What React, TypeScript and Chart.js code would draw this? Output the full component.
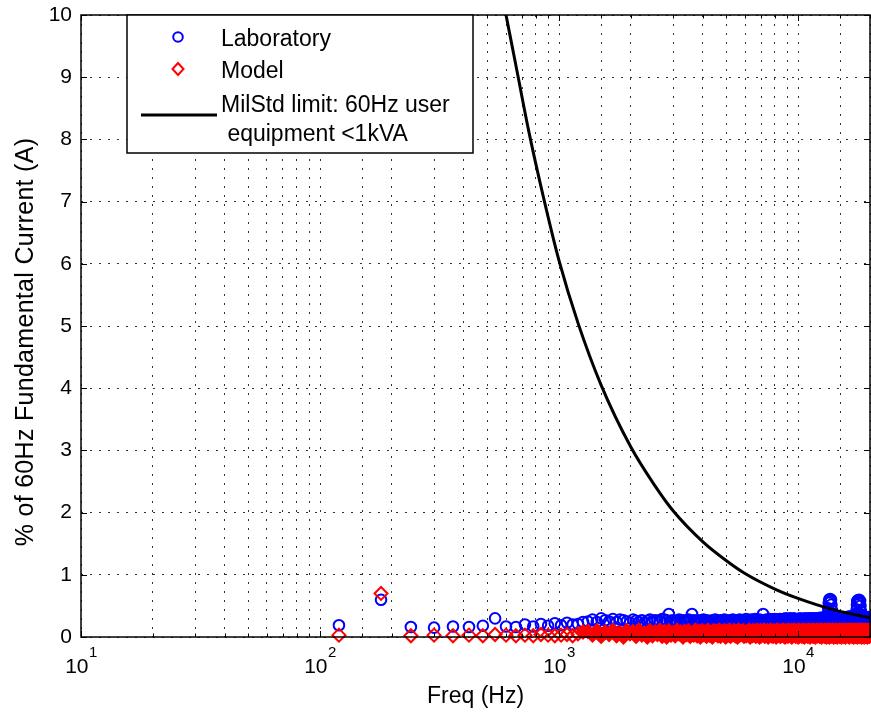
import React, { useEffect, useRef } from 'react';
import { Chart, registerables } from 'chart.js';

Chart.register(...registerables);

const FONT = '"Liberation Sans", Arial, Helvetica, sans-serif';

// Harmonics of the 60 Hz fundamental: orders 2..333
const FUNDAMENTAL_HZ = 60;
const FIRST_HARMONIC = 2;

// Laboratory measurement, % of fundamental, harmonic orders 2..333
const labValues = [
  0.19, 0.60, 0.16, 0.15, 0.17, 0.16, 0.18, 0.30, 0.17, 0.16, 0.20, 0.17, 0.21, 0.18, 0.22, 0.19, 0.23, 0.20, 0.21, 0.24,
  0.25, 0.28, 0.24, 0.30, 0.27, 0.25, 0.29, 0.24, 0.28, 0.27, 0.25, 0.23, 0.28, 0.26, 0.24, 0.27, 0.23, 0.26, 0.28, 0.25,
  0.27, 0.26, 0.25, 0.29, 0.28, 0.27, 0.37, 0.26, 0.27, 0.25, 0.26, 0.28, 0.24, 0.27, 0.26, 0.25, 0.28, 0.26, 0.37, 0.27,
  0.26, 0.25, 0.27, 0.24, 0.26, 0.28, 0.25, 0.27, 0.26, 0.24, 0.25, 0.27, 0.26, 0.28, 0.25, 0.24, 0.26, 0.27, 0.25, 0.26,
  0.28, 0.25, 0.26, 0.24, 0.27, 0.25, 0.26, 0.28, 0.24, 0.25, 0.27, 0.26, 0.25, 0.28, 0.26, 0.24, 0.27, 0.25, 0.26, 0.29,
  0.25, 0.27, 0.26, 0.24, 0.28, 0.26, 0.25, 0.27, 0.29, 0.26, 0.28, 0.27, 0.26, 0.28, 0.25, 0.27, 0.26, 0.37, 0.27, 0.26,
  0.26, 0.28, 0.25, 0.27, 0.26, 0.29, 0.27, 0.26, 0.28, 0.25, 0.27, 0.29, 0.26, 0.28, 0.27, 0.25, 0.28, 0.26, 0.29, 0.27,
  0.28, 0.26, 0.27, 0.29, 0.25, 0.28, 0.30, 0.27, 0.26, 0.28, 0.29, 0.27, 0.30, 0.28, 0.26, 0.29, 0.27, 0.28, 0.30, 0.26,
  0.27, 0.25, 0.28, 0.26, 0.29, 0.27, 0.25, 0.28, 0.30, 0.26, 0.28, 0.27, 0.25, 0.29, 0.26, 0.28, 0.30, 0.27, 0.26, 0.29,
  0.28, 0.26, 0.30, 0.27, 0.29, 0.28, 0.26, 0.30, 0.29, 0.28, 0.27, 0.30, 0.29, 0.27, 0.28, 0.29, 0.30, 0.28, 0.27, 0.29,
  0.30, 0.28, 0.27, 0.29, 0.31, 0.28, 0.27, 0.30, 0.31, 0.29, 0.30, 0.28, 0.31, 0.29, 0.32, 0.29, 0.33, 0.30, 0.32, 0.34,
  0.38, 0.46, 0.55, 0.60, 0.58, 0.61, 0.57, 0.60, 0.52, 0.43, 0.36, 0.32, 0.30, 0.33, 0.29, 0.31, 0.33, 0.28, 0.32, 0.30,
  0.28, 0.32, 0.30, 0.33, 0.29, 0.31, 0.28, 0.32, 0.30, 0.28, 0.31, 0.29, 0.27, 0.31, 0.28, 0.30, 0.28, 0.32, 0.29, 0.27,
  0.30, 0.28, 0.31, 0.28, 0.29, 0.32, 0.28, 0.30, 0.32, 0.29, 0.31, 0.33, 0.30, 0.32, 0.33, 0.31, 0.32, 0.30, 0.31, 0.33,
  0.30, 0.32, 0.30, 0.31, 0.33, 0.30, 0.32, 0.34, 0.31, 0.33, 0.37, 0.44, 0.52, 0.58, 0.56, 0.59, 0.55, 0.58, 0.60, 0.57,
  0.54, 0.58, 0.50, 0.42, 0.36, 0.33, 0.31, 0.34, 0.30, 0.32, 0.29, 0.33, 0.31, 0.28, 0.32, 0.30, 0.28, 0.31, 0.29, 0.27,
  0.30, 0.28, 0.31, 0.28, 0.29, 0.32, 0.28, 0.30, 0.28, 0.29, 0.31, 0.28,
];

// Model prediction, % of fundamental, harmonic orders 2..333
const modelValues = [
  0.03, 0.70, 0.02, 0.03, 0.02, 0.03, 0.02, 0.04, 0.03, 0.02, 0.03, 0.02, 0.04, 0.03, 0.02, 0.03, 0.04, 0.02, 0.05, 0.08,
  0.09, 0.03, 0.10, 0.01, 0.08, 0.04, 0.11, 0.02, 0.07, 0.00, 0.10, 0.05, 0.09, 0.01, 0.11, 0.03, 0.06, 0.00, 0.10, 0.02,
  0.08, 0.04, 0.11, 0.01, 0.09, 0.00, 0.10, 0.03, 0.07, 0.02, 0.11, 0.05, 0.08, 0.00, 0.09, 0.04, 0.10, 0.01, 0.06, 0.03,
  0.11, 0.02, 0.09, 0.00, 0.10, 0.04, 0.08, 0.01, 0.11, 0.03, 0.07, 0.00, 0.10, 0.05, 0.09, 0.02, 0.11, 0.01, 0.08, 0.04,
  0.10, 0.00, 0.09, 0.03, 0.11, 0.01, 0.07, 0.04, 0.10, 0.02, 0.08, 0.00, 0.11, 0.03, 0.09, 0.05, 0.10, 0.01, 0.07, 0.02,
  0.09, 0.04, 0.11, 0.00, 0.08, 0.02, 0.10, 0.03, 0.06, 0.01, 0.11, 0.04, 0.09, 0.00, 0.10, 0.02, 0.08, 0.05, 0.11, 0.01,
  0.07, 0.03, 0.10, 0.00, 0.09, 0.04, 0.11, 0.02, 0.08, 0.01, 0.10, 0.03, 0.07, 0.00, 0.11, 0.05, 0.09, 0.02, 0.10, 0.01,
  0.08, 0.04, 0.11, 0.02, 0.09, 0.00, 0.10, 0.03, 0.07, 0.01, 0.11, 0.04, 0.08, 0.02, 0.10, 0.00, 0.09, 0.05, 0.11, 0.03,
  0.06, 0.01, 0.10, 0.04, 0.09, 0.00, 0.11, 0.02, 0.08, 0.03, 0.10, 0.01, 0.07, 0.04, 0.11, 0.00, 0.09, 0.02, 0.10, 0.05,
  0.08, 0.01, 0.11, 0.03, 0.09, 0.00, 0.10, 0.04, 0.07, 0.02, 0.11, 0.01, 0.08, 0.05, 0.10, 0.00, 0.09, 0.03, 0.11, 0.02,
  0.07, 0.04, 0.10, 0.01, 0.09, 0.03, 0.11, 0.00, 0.08, 0.02, 0.10, 0.05, 0.06, 0.01, 0.11, 0.03, 0.09, 0.00, 0.10, 0.04,
  0.08, 0.02, 0.11, 0.00, 0.09, 0.04, 0.10, 0.01, 0.07, 0.03, 0.11, 0.02, 0.08, 0.00, 0.10, 0.05, 0.09, 0.01, 0.11, 0.03,
  0.07, 0.00, 0.10, 0.04, 0.08, 0.02, 0.11, 0.01, 0.09, 0.03, 0.10, 0.00, 0.06, 0.05, 0.11, 0.02, 0.08, 0.01, 0.10, 0.04,
  0.09, 0.00, 0.11, 0.03, 0.07, 0.02, 0.10, 0.04, 0.08, 0.01, 0.11, 0.00, 0.09, 0.03, 0.10, 0.05, 0.07, 0.02, 0.11, 0.01,
  0.08, 0.03, 0.10, 0.00, 0.09, 0.04, 0.11, 0.02, 0.06, 0.01, 0.10, 0.03, 0.08, 0.00, 0.11, 0.04, 0.09, 0.02, 0.10, 0.01,
  0.07, 0.05, 0.11, 0.02, 0.09, 0.00, 0.10, 0.03, 0.08, 0.01, 0.11, 0.04, 0.09, 0.00, 0.10, 0.02, 0.07, 0.03, 0.11, 0.01,
  0.08, 0.04, 0.10, 0.00, 0.09, 0.02, 0.11, 0.03, 0.07, 0.01, 0.10, 0.02,
];

// MilStd limit curve
const limitFreqs = [600, 667, 750, 857, 1000, 1200, 1500, 2000, 2500, 3000, 4000, 5000, 6000, 8000, 10000, 14000, 20000];
const limitValues = [10, 9.1, 8.1, 7.1, 6.05, 5.05, 4.05, 3.05, 2.45, 2.03, 1.53, 1.23, 1.02, 0.77, 0.62, 0.44, 0.31];

const X_MIN = 10;
const X_MAX = 20000;
const Y_MIN = 0;
const Y_MAX = 10;
const Y_STEP = 1;
const decadeTicks = [10, 100, 1000, 10000];
const decadeExponents = ['1', '2', '3', '4'];
// above this frequency the model markers merge into a solid band
const MODEL_DENSE_FROM_HZ = 1250;

const LEGEND_LABELS = ['Laboratory', 'Model', 'MilStd limit: 60Hz user', ' equipment <1kVA'];
const X_TITLE = 'Freq (Hz)';
const Y_TITLE = '% of 60Hz Fundamental Current (A)';

const LAB_COLOR = '#0000ff';
const MODEL_COLOR = '#ff0000';
const CLEAR = 'rgba(0,0,0,0)';

const decorPlugin = {
  id: 'matlabDecor',
  afterDraw(chart: any) {
    const { ctx, chartArea: a, scales } = chart;
    const xs = scales.x;
    const ys = scales.y;
    ctx.save();

    // inward tick marks
    ctx.strokeStyle = '#000';
    ctx.lineWidth = 1;
    ctx.beginPath();
    for (const t of ys.ticks) {
      const y = Math.round(ys.getPixelForValue(t.value)) + 0.5;
      ctx.moveTo(a.left, y);
      ctx.lineTo(a.left + 6, y);
      ctx.moveTo(a.right, y);
      ctx.lineTo(a.right - 6, y);
    }
    for (const t of xs.ticks) {
      const lg = Math.log10(t.value);
      const major = Math.abs(lg - Math.round(lg)) < 1e-9;
      const len = major ? 6 : 3.5;
      const x = Math.round(xs.getPixelForValue(t.value)) + 0.5;
      ctx.moveTo(x, a.bottom);
      ctx.lineTo(x, a.bottom - len);
      ctx.moveTo(x, a.top);
      ctx.lineTo(x, a.top + len);
    }
    ctx.stroke();

    // axes box
    ctx.lineWidth = 1.5;
    ctx.strokeRect(a.left, a.top, a.right - a.left, a.bottom - a.top);

    // x decade labels 10^n
    ctx.fillStyle = '#000';
    ctx.textBaseline = 'alphabetic';
    ctx.textAlign = 'left';
    decadeTicks.forEach((v, i) => {
      const x = xs.getPixelForValue(v);
      ctx.font = `21px ${FONT}`;
      const w10 = ctx.measureText('10').width;
      ctx.font = `15px ${FONT}`;
      const wsup = ctx.measureText(decadeExponents[i]).width;
      const left = x - (w10 + wsup) / 2;
      ctx.font = `21px ${FONT}`;
      ctx.fillText('10', left, 673);
      ctx.font = `15px ${FONT}`;
      ctx.fillText(decadeExponents[i], left + w10 + 0.5, 657);
    });

    // axis titles
    ctx.font = `23px ${FONT}`;
    ctx.textAlign = 'center';
    ctx.fillText(X_TITLE, (a.left + a.right) / 2, 703);
    ctx.save();
    ctx.translate(33, 342);
    ctx.rotate(-Math.PI / 2);
    ctx.font = `25px ${FONT}`;
    try {
      ctx.letterSpacing = '0.3px';
    } catch (e) {
      /* ignore */
    }
    ctx.fillText(Y_TITLE, 0, 0);
    ctx.restore();

    // legend box
    const lx = 127, ly = a.top, lw = 346, lh = 138;
    ctx.fillStyle = '#fff';
    ctx.fillRect(lx, ly, lw, lh);
    ctx.strokeStyle = '#000';
    ctx.lineWidth = 1.5;
    ctx.strokeRect(lx, ly, lw, lh);

    // markers
    ctx.lineWidth = 2;
    ctx.strokeStyle = LAB_COLOR;
    ctx.beginPath();
    ctx.arc(178, 37, 4.8, 0, Math.PI * 2);
    ctx.stroke();
    ctx.strokeStyle = MODEL_COLOR;
    ctx.beginPath();
    ctx.moveTo(178, 63);
    ctx.lineTo(183.5, 69);
    ctx.lineTo(178, 75);
    ctx.lineTo(172.5, 69);
    ctx.closePath();
    ctx.stroke();
    ctx.strokeStyle = '#000';
    ctx.lineWidth = 3;
    ctx.beginPath();
    ctx.moveTo(141, 115);
    ctx.lineTo(217, 115);
    ctx.stroke();

    ctx.fillStyle = '#000';
    ctx.textAlign = 'left';
    ctx.font = `23px ${FONT}`;
    ctx.fillText(LEGEND_LABELS[0], 221, 46);
    ctx.fillText(LEGEND_LABELS[1], 221, 78);
    ctx.fillText(LEGEND_LABELS[2], 221, 112);
    ctx.fillText(LEGEND_LABELS[3], 221, 141);

    ctx.restore();
  },
};

const zeroPadding = (s: any) => {
  s.paddingTop = 0;
  s.paddingBottom = 0;
  s.paddingLeft = 0;
  s.paddingRight = 0;
};

export default function App() {
  const canvasRef = useRef<HTMLCanvasElement | null>(null);

  useEffect(() => {
    const canvas = canvasRef.current;
    if (!canvas) return;
    const toPoints = (vals: number[]) =>
      vals.map((v, i) => ({ x: (FIRST_HARMONIC + i) * FUNDAMENTAL_HZ, y: v }));
    const limitPoints = limitFreqs.map((f, i) => ({ x: f, y: limitValues[i] }));

    const gridCommon = { color: '#333', lineWidth: 1, drawTicks: false };

    const chart = new Chart(canvas, {
      type: 'scatter',
      data: {
        datasets: [
          {
            label: 'MilStd limit: 60Hz user equipment <1kVA',
            data: limitPoints,
            showLine: true,
            borderColor: '#000',
            borderWidth: 3,
            pointRadius: 0,
            cubicInterpolationMode: 'monotone',
            fill: false,
            order: 1,
          },
          {
            label: 'Model',
            data: toPoints(modelValues),
            showLine: false,
            pointStyle: 'rectRot',
            pointRadius: 6.5,
            borderColor: MODEL_COLOR,
            pointBorderColor: MODEL_COLOR,
            pointBorderWidth: 2,
            pointBackgroundColor: (c: any) =>
              c.raw && c.raw.x >= MODEL_DENSE_FROM_HZ ? MODEL_COLOR : CLEAR,
            backgroundColor: CLEAR,
            clip: false,
            order: 2,
          },
          {
            label: 'Laboratory',
            data: toPoints(labValues),
            showLine: false,
            pointStyle: 'circle',
            pointRadius: 5.3,
            borderColor: LAB_COLOR,
            pointBorderColor: LAB_COLOR,
            pointBorderWidth: 2,
            pointBackgroundColor: CLEAR,
            backgroundColor: CLEAR,
            clip: false,
            order: 3,
          },
        ] as any,
      },
      options: {
        animation: false,
        responsive: false,
        events: [],
        layout: { autoPadding: false, padding: { left: 0, right: 1, top: 15, bottom: 0 } },
        plugins: {
          legend: { display: false },
          tooltip: { enabled: false },
          title: { display: false },
        },
        scales: {
          x: {
            type: 'logarithmic',
            min: X_MIN,
            max: X_MAX,
            position: 'bottom',
            ticks: { display: false, autoSkip: false },
            grid: gridCommon,
            border: { display: false, dash: [2, 7] },
            afterFit: (s: any) => {
              s.height = 77;
              zeroPadding(s);
            },
          },
          y: {
            type: 'linear',
            min: Y_MIN,
            max: Y_MAX,
            position: 'left',
            ticks: {
              stepSize: Y_STEP,
              color: '#000',
              padding: 9,
              font: { family: FONT, size: 21 },
            },
            grid: gridCommon,
            border: { display: false, dash: [2, 7] },
            afterFit: (s: any) => {
              s.width = 81;
              zeroPadding(s);
            },
          },
        } as any,
      },
      plugins: [decorPlugin],
    });

    return () => chart.destroy();
  }, []);

  return (
    <div style={{ position: 'fixed', left: 0, top: 0, width: 871, height: 714, background: '#fff' }}>
      <canvas ref={canvasRef} width={871} height={714} style={{ display: 'block' }} />
    </div>
  );
}
